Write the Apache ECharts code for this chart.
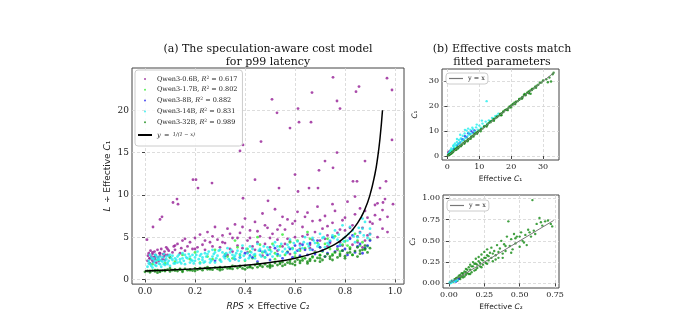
<!DOCTYPE html>
<html>
<head>
<meta charset="utf-8">
<script src="https://cdn.jsdelivr.net/npm/echarts@6/dist/echarts.min.js"></script>
<style>
  html, body { margin: 0; padding: 0; background: #fff; }
  #main { width: 686px; height: 318px; }
</style>
</head>
<body>
<div id="main"></div>
<script>
// (a) 左图: RPS x C2 vs L / C1
var p06 = [
  [0.01,2.2],[0.012,2.8],[0.015,3.1],[0.018,2.5],[0.02,1.9],[0.022,3.4],[0.025,2.7],[0.028,2.3],[0.03,3.0],[0.032,2.1],
  [0.035,2.6],[0.038,3.3],[0.04,2.4],[0.042,2.9],[0.045,2.0],[0.05,3.5],[0.052,2.6],[0.055,2.2],[0.058,3.1],[0.06,2.8],
  [0.065,3.6],[0.07,2.4],[0.072,3.0],[0.075,2.7],[0.078,3.3],[0.08,2.3],[0.085,3.8],[0.09,2.9],[0.095,3.4],[0.1,2.6],
  [0.11,3.2],[0.115,3.9],[0.12,3.5],[0.13,4.2],[0.14,3.1],[0.145,3.7],[0.15,4.6],[0.16,3.4],[0.17,3.9],[0.18,4.4],
  [0.19,3.6],[0.2,4.9],[0.21,3.8],[0.22,5.3],[0.23,4.1],[0.24,3.5],[0.25,5.6],[0.26,4.4],[0.27,3.9],[0.28,6.2],[0.29,4.7],
  [0.3,3.8],[0.31,5.2],[0.32,4.3],[0.33,6.0],[0.34,3.6],[0.35,4.9],[0.36,6.5],[0.37,4.0],[0.38,5.5],[0.39,3.7],
  [0.4,7.2],[0.41,4.6],[0.42,5.8],[0.43,3.9],[0.44,6.8],[0.45,4.4],[0.46,5.1],[0.47,7.8],[0.48,4.2],[0.49,6.1],
  [0.5,3.8],[0.51,5.4],[0.52,8.3],[0.53,4.7],[0.54,6.4],[0.55,3.9],[0.56,5.9],[0.57,7.1],[0.58,4.5],[0.59,6.6],
  [0.6,5.0],[0.61,8.0],[0.62,4.2],[0.63,6.2],[0.64,7.4],[0.65,5.3],[0.66,4.1],[0.67,6.9],[0.68,5.6],[0.69,8.6],
  [0.7,4.6],[0.71,6.0],[0.72,7.5],[0.73,5.2],[0.74,4.3],[0.75,6.7],[0.76,8.1],[0.77,5.5],[0.78,4.4],[0.79,7.0],
  [0.8,5.8],[0.81,9.2],[0.82,4.9],[0.83,6.4],[0.84,7.7],[0.85,5.1],[0.86,8.4],[0.87,6.1],[0.88,4.6],[0.89,7.3],
  [0.9,5.4],[0.91,6.6],[0.92,8.8],[0.93,5.0],[0.94,7.1],[0.95,6.0],[0.96,9.5],[0.97,5.6],
  [0.33,2.9],[0.41,3.2],[0.47,2.8],[0.53,3.4],[0.58,3.0],[0.62,3.6],[0.68,3.3],[0.73,3.9],[0.77,3.5],[0.83,4.1],
  [0.87,3.8],[0.35,3.3],[0.44,3.5],[0.56,4.2],[0.66,3.7],[0.72,4.8],[0.79,4.0],[0.85,4.4],[0.89,5.2],
  [0.02,2.5],[0.03,3.2],[0.04,2.7],[0.06,3.1],[0.08,2.9],[0.09,3.6],[0.12,4.0],[0.16,4.8],[0.2,3.6],[0.24,4.6],
  [0.27,5.1],[0.31,4.4],[0.34,5.4],[0.37,4.9],[0.39,6.2],[0.42,4.9],[0.45,5.7],[0.48,6.4],[0.5,4.9],[0.53,5.9],
  [0.55,7.4],[0.57,4.8],[0.6,6.9],[0.63,5.1],[0.65,7.9],[0.67,4.7],[0.7,7.0],[0.73,6.3],[0.75,8.9],[0.78,5.9],
  [0.8,7.3],[0.82,6.1],[0.84,9.8],[0.86,5.6],[0.88,8.1],[0.9,6.8],[0.92,7.6],[0.93,9.0],[0.95,8.2],[0.97,7.4],
  [0.752,23.9],[0.968,23.8],[0.988,22.4],[0.668,22.1],[0.844,22.2],[0.856,22.8],[0.508,21.3],[0.768,21.1],[0.612,20.2],
  [0.78,20.2],[0.528,19.7],[0.616,18.6],[0.664,18.6],[0.58,17.9],[0.988,16.5],[0.392,15.9],[0.464,16.3],[0.38,15.2],
  [0.44,11.8],[0.192,11.8],[0.212,10.8],[0.204,11.8],[0.268,11.4],[0.128,9.5],[0.112,9.1],[0.132,8.9],[0.068,7.4],
  [0.06,7.1],[0.032,6.2],[0.008,4.7],[0.6,12.4],[0.768,15.0],[0.696,12.9],[0.752,13.2],[0.72,14.0],[0.88,14.0],
  [0.832,11.6],[0.848,11.6],[0.964,11.6],[0.536,10.8],[0.612,10.4],[0.94,10.8],[0.392,9.6],[0.492,9.3],[0.656,10.8],
  [0.692,10.8],[0.952,9.1],[0.992,8.9]
]
var p17 = [
  [0.03,1.8],[0.05,2.3],[0.08,1.9],[0.1,2.6],[0.12,2.1],[0.15,2.9],[0.18,2.4],[0.2,3.2],[0.22,2.0],[0.25,2.7],
  [0.28,3.5],[0.3,2.3],[0.32,3.0],[0.35,2.5],[0.37,3.8],[0.4,2.2],[0.42,3.3],[0.44,2.8],[0.46,4.1],[0.48,2.6],
  [0.5,3.5],[0.52,2.4],[0.54,3.9],[0.56,2.9],[0.58,4.4],[0.6,3.1],[0.62,2.7],[0.64,3.7],[0.66,4.8],[0.68,3.2],
  [0.7,2.9],[0.72,4.2],[0.74,3.6],[0.76,5.1],[0.78,3.3],[0.8,4.5],[0.82,3.8],[0.84,5.4],[0.86,4.0],[0.88,3.5],
  [0.9,4.7],[0.36,4.6],[0.45,5.0],[0.55,5.3],[0.65,5.6],[0.75,3.0],[0.85,4.6],[0.62,3.4],[0.7,3.8],[0.79,4.1],
  [0.52,3.1],[0.43,2.5],[0.57,3.3],[0.67,2.6],[0.83,2.9],
  [0.38,2.9],[0.41,3.6],[0.47,3.2],[0.51,4.2],[0.53,2.8],[0.59,3.7],[0.61,4.6],[0.63,2.5],[0.69,4.3],[0.71,3.3],
  [0.73,4.8],[0.77,3.6],[0.81,4.0],[0.87,4.4],[0.89,3.9],[0.33,2.7],[0.27,2.4],[0.6,2.7]
]
var p8 = [
  [0.28,2.2],[0.32,2.8],[0.36,2.4],[0.4,3.1],[0.43,2.6],[0.46,3.4],[0.49,2.9],[0.52,3.7],[0.55,2.5],[0.57,3.2],
  [0.6,4.0],[0.62,2.8],[0.64,3.5],[0.66,4.3],[0.68,3.0],[0.7,3.8],[0.72,2.7],[0.74,4.5],[0.76,3.3],[0.78,4.0],
  [0.8,3.6],[0.82,4.8],[0.84,3.2],[0.86,4.2],[0.88,3.7],[0.9,4.6],[0.58,3.6],[0.65,2.9],[0.71,3.4],[0.77,3.9],
  [0.81,2.9],[0.87,3.1],[0.5,2.3],[0.45,2.1],[0.69,4.6],[0.75,5.0],[0.83,5.2],
  [0.53,3.0],[0.59,2.6],[0.61,3.4],[0.63,4.1],[0.67,3.5],[0.73,3.1],[0.79,3.4],[0.85,3.9],[0.89,4.0],[0.48,3.3],
  [0.42,2.8],[0.38,2.6]
]
var p14 = [
  [0.01,1.5],[0.015,2.2],[0.02,1.8],[0.025,2.6],[0.03,1.4],[0.035,2.0],[0.04,2.9],[0.045,1.6],[0.05,2.3],[0.055,1.9],
  [0.06,2.7],[0.065,1.5],[0.07,2.1],[0.075,3.0],[0.08,1.7],[0.085,2.4],[0.09,2.0],[0.095,2.8],[0.1,1.6],[0.11,2.3],
  [0.12,1.9],[0.13,2.7],[0.14,2.1],[0.15,3.1],[0.16,1.8],[0.17,2.5],[0.18,2.0],[0.19,2.9],[0.2,2.2],[0.21,3.3],
  [0.22,1.9],[0.23,2.6],[0.24,2.1],[0.25,3.0],[0.26,2.4],[0.27,3.5],[0.28,2.0],[0.29,2.8],[0.3,2.3],[0.31,3.2],
  [0.32,2.5],[0.33,3.7],[0.34,2.2],[0.35,2.9],[0.36,2.4],[0.37,3.4],[0.38,2.6],[0.39,4.0],[0.4,2.3],[0.41,3.1],
  [0.42,2.7],[0.43,3.6],[0.44,2.5],[0.45,4.2],[0.46,2.9],[0.47,3.3],[0.48,2.6],[0.49,3.8],[0.5,3.0],[0.52,4.4],
  [0.54,2.8],[0.56,3.6],[0.58,4.7],[0.6,3.2],[0.62,4.0],[0.64,5.0],[0.66,3.5],[0.68,4.3],[0.7,5.4],[0.72,3.8],
  [0.74,4.6],[0.76,5.8],[0.78,4.1],[0.8,5.0],[0.82,6.2],[0.84,4.4],[0.86,5.5],[0.88,6.8],[0.89,4.9],[0.9,6.0],
  [0.87,7.2],[0.83,5.8],[0.79,6.4],[0.71,4.9],[0.63,3.7],[0.55,3.3],[0.51,2.7],[0.05,2.6],[0.08,2.2],[0.12,2.5],
  [0.18,2.7],[0.03,2.4],[0.06,1.8],[0.1,2.9],[0.14,2.4],[0.22,2.8],[0.26,2.0],[0.3,3.5],[0.34,3.2],[0.38,3.0],
  [0.42,3.9],[0.46,3.6],[0.02,2.9],[0.04,2.2],[0.07,2.6],[0.09,1.8],[0.11,2.8],[0.13,2.0],[0.16,2.9],[0.2,2.6],
  [0.24,3.1],[0.28,3.2],
  [0.53,3.9],[0.57,4.1],[0.59,3.6],[0.61,4.5],[0.65,4.2],[0.67,4.9],[0.69,3.9],[0.73,4.3],[0.75,5.2],[0.77,4.7],
  [0.81,4.6],[0.85,5.0],[0.87,6.0],[0.9,5.3],[0.44,3.0],[0.48,3.4],[0.36,2.8],[0.32,2.9],[0.27,2.7],[0.23,2.3],
  [0.19,2.2],[0.15,2.5],[0.06,2.3],[0.04,1.7],
  [0.015,1.9],[0.025,1.6],[0.035,2.5],[0.045,2.8],[0.055,2.4],[0.065,2.2],[0.075,1.8],[0.085,2.7],[0.095,2.2],
  [0.105,2.5],[0.115,1.9],[0.125,2.3],[0.135,2.9],[0.145,1.9],[0.155,2.2],[0.165,2.6],[0.175,3.0],[0.185,2.3],
  [0.195,1.9],[0.205,2.9],[0.215,2.4],[0.225,3.0],[0.235,2.0],[0.245,2.7],[0.255,3.3],[0.265,2.2],[0.275,3.0],
  [0.285,2.5],[0.295,3.4],[0.305,2.1],[0.315,2.7],[0.325,3.1],[0.335,2.4],[0.345,3.5],[0.355,2.6],[0.365,3.1],
  [0.375,2.2],[0.385,3.3],[0.395,2.8],[0.405,3.6],[0.415,2.5],[0.425,3.2],[0.435,2.9],[0.455,3.4],[0.465,2.7],
  [0.475,3.9],[0.485,3.1],[0.495,3.5],[0.505,3.3],[0.515,4.0],[0.525,3.0],[0.535,3.5],[0.545,4.2],[0.565,3.1],
  [0.575,3.8],[0.595,4.3],[0.615,3.5],[0.635,4.4],[0.655,3.9],[0.675,4.6],[0.695,4.1],[0.715,5.0],[0.735,4.1],
  [0.755,4.9],[0.775,5.3],[0.795,4.5],[0.815,5.4],[0.835,5.1],[0.855,6.1],[0.875,5.2]
]
var p32 = [
  [0.0,0.9],[0.01,1.0],[0.02,0.85],[0.03,1.05],[0.04,0.95],[0.05,1.1],[0.06,0.9],[0.07,1.05],[0.08,1.0],[0.09,1.15],
  [0.1,0.95],[0.11,1.1],[0.12,1.2],[0.13,1.0],[0.14,1.15],[0.15,1.05],[0.16,1.25],[0.17,1.1],[0.18,1.2],[0.19,1.05],
  [0.2,1.3],[0.21,1.15],[0.22,1.25],[0.23,1.1],[0.24,1.35],[0.25,1.2],[0.26,1.3],[0.27,1.15],[0.28,1.4],[0.29,1.25],
  [0.3,1.35],[0.31,1.2],[0.32,1.45],[0.33,1.3],[0.34,1.4],[0.35,1.25],[0.36,1.55],[0.37,1.35],[0.38,1.5],[0.39,1.3],
  [0.4,1.6],[0.41,1.4],[0.42,1.55],[0.43,1.35],[0.44,1.7],[0.45,1.45],[0.46,1.65],[0.47,1.5],[0.48,1.8],[0.49,1.55],
  [0.5,1.75],[0.51,1.6],[0.52,1.95],[0.53,1.7],[0.54,1.85],[0.55,2.05],[0.56,1.75],[0.57,2.0],[0.58,2.2],[0.59,1.85],
  [0.6,2.1],[0.61,2.35],[0.62,1.95],[0.63,2.25],[0.64,2.5],[0.65,2.1],[0.66,2.4],[0.67,2.7],[0.68,2.2],[0.69,2.55],
  [0.7,2.85],[0.71,2.3],[0.72,2.7],[0.73,3.0],[0.74,2.45],[0.75,2.85],[0.76,3.2],[0.77,2.6],[0.78,3.0],[0.79,3.4],
  [0.8,2.75],[0.81,3.15],[0.82,3.6],[0.83,2.9],[0.84,3.35],[0.85,3.8],[0.86,3.05],[0.87,3.5],[0.88,4.0],[0.89,3.2],
  [0.9,3.7],[0.05,0.8],[0.1,1.3],[0.15,0.9],[0.2,1.0],[0.25,1.45],[0.3,1.1],[0.35,1.6],[0.4,1.2],[0.45,1.9],
  [0.5,1.4],[0.55,1.6],[0.6,1.7],[0.65,1.9],[0.7,2.1],[0.75,2.3],[0.8,2.5],[0.85,2.7],
  [0.02,1.0],[0.04,1.1],[0.06,1.0],[0.08,1.1],[0.12,1.05],[0.14,1.25],[0.18,1.1],[0.22,1.35],[0.26,1.2],[0.3,1.45],
  [0.34,1.3],[0.38,1.6],[0.42,1.45],[0.46,1.75],[0.5,1.6],[0.54,2.0],[0.58,1.9],[0.62,2.2],[0.66,2.2],[0.7,2.5],
  [0.74,2.7],[0.78,2.8],[0.82,3.2],[0.86,3.4],[0.88,3.6]
]
// y = 1/(1-x) 的点
var curve = [
  [0,1],[0.1,1.111],[0.2,1.25],[0.3,1.4286],[0.4,1.6667],[0.5,2],[0.6,2.5],[0.7,3.333],[0.75,4],[0.8,5],
  [0.85,6.667],[0.88,8.333],[0.9,10],[0.92,12.5],[0.93,14.286],[0.94,16.667],[0.95,20]
]
var r2 = ['0.617', '0.802', '0.882', '0.831', '0.989']
var models = ['Qwen3-0.6B', 'Qwen3-1.7B', 'Qwen3-8B', 'Qwen3-14B', 'Qwen3-32B']
var colors = ['#951d95', '#33ee33', '#2323ee', '#22eeee', '#118811']

// (b) 右上: C1
var c1p06 = [[0.2,0.5],[0.4,1.1],[0.5,1.8],[0.7,1.4],[0.9,2.1],[0.3,1.5],[0.6,0.7]]
var c1p17 = [[0.3,0.4],[0.8,1.2],[1.3,1.9],[1.7,2.3],[2.2,2.9],[2.6,3.1],[3.1,3.6]]
var c1p8 = [[1,1.6],[2,2.9],[3,4.2],[4,5.4],[4.5,6.8],[5,6.5],[5.5,7.9],[6,7.5],[6.5,9.1],[7,8.8],[7.5,10.0],[8,9.4],[8.5,10.3],[0.8,1.2],[3.5,4.9]]
var c1p14 = [
  [0.3,0.8],[0.6,1.5],[0.9,2.2],[1.2,3.0],[1.5,2.6],[1.8,4.0],[2.1,3.5],[2.4,5.0],[2.7,4.2],[3.0,5.6],[3.3,4.8],
  [3.6,6.4],[3.9,5.3],[4.2,7.0],[4.5,6.0],[4.8,8.1],[5.1,6.6],[5.4,9.0],[5.7,7.3],[6.0,10.2],[6.3,8.0],[6.6,9.4],
  [6.9,8.6],[7.2,10.5],[7.5,9.0],[8.0,10.8],[8.5,9.8],[9.0,11.5],[9.5,10.6],[10,12.2],[10.5,11.4],[11,13.0],
  [11.5,12.1],[12,13.8],[12.3,22.0],[12.6,13.0],[13.0,14.3],[13.5,14.0],[14,15.3],[14.5,15.0],[15,16.0],[15.5,16.2],
  [16,17.0],[6.5,11.0],[5.5,10.5],[4.0,8.5],[3.0,6.8],[2.0,4.4],[7.8,11.4],[9.2,12.6],[10.8,14.2],[1.0,1.8],[0.5,1.0]
]
var c1p32 = [
  [0.5,0.4],[1,1.1],[1.5,1.3],[2,2.1],[2.5,2.4],[3,3.2],[3.5,3.4],[4,4.1],[4.5,4.6],[5,5.2],[5.5,5.4],[6,6.1],
  [6.5,6.7],[7,7.0],[7.5,7.8],[8,8.1],[8.5,8.6],[9,9.3],[9.5,9.5],[10,10.2],[10.5,10.8],[11,11.0],[11.5,11.9],
  [12,12.1],[12.5,12.7],[13,13.3],[13.5,13.5],[14,14.2],[14.5,14.9],[15,15.1],[15.5,15.8],[16,16.0],[16.5,16.9],
  [17,17.2],[17.5,17.6],[18,18.4],[18.5,18.7],[19,19.1],[19.5,19.9],[20,20.3],[20.5,20.6],[21,21.4],[21.5,21.8],
  [22,22.0],[22.5,22.9],[23,23.1],[23.5,23.7],[24,24.5],[24.5,24.7],[25,25.4],[25.5,25.6],[26,26.3],[26.5,26.9],
  [27,27.1],[27.5,27.8],[28,28.2],[28.5,28.6],[29,29.4],[29.5,29.5],[30,30.3],[31,30.8],[31.5,29.6],[32,31.5],
  [32.5,29.9],[33,32.8],[33.3,33.4],[1.2,0.9],[2.8,2.5],[4.2,3.9],[6.3,5.9],[8.2,7.8],[10.4,9.9],[12.3,11.8],
  [14.6,14.1],[16.8,16.3],[18.9,18.4],[21.2,20.8],[23.4,23.0],[25.6,25.2],[27.8,27.4],[17,16.4],[20,19.5],
  [24.2,24.9],[26.1,25.0],[0.2,0.3],[0.8,0.6],[1.8,1.6],[3.3,3.0],[5.3,4.9],[7.3,6.9],[9.3,8.9],
  [0.5,0.7],[1.5,1.6],[2.5,2.7],[3.5,3.7],[4.5,4.4],[5.5,5.8],[6.5,6.4],[7.5,7.5],[8.5,8.9],[9.5,9.8],[10.5,10.5],
  [11.5,11.6],[12.5,12.4],[13.5,13.9],[14.5,14.5],[15.5,15.5],[16.5,16.5],[17.5,17.9],[18.5,18.5],[19.5,19.5],
  [20.5,20.9],[21.5,21.5],[22.5,22.5],[23.5,23.4],[24.5,24.4],[25.5,25.9],[26.5,26.5]
]
var c1line = [[0, 0], [33.5, 33.5]]

// (b) 右下: C2
var c2p8 = [[0.02,0.02],[0.04,0.03],[0.05,0.02],[0.07,0.05]]
var c2p14 = [[0.005,0.01],[0.01,0.0],[0.015,0.02],[0.02,0.01],[0.03,0.03],[0.04,0.02],[0.05,0.03],[0.06,0.04]]
var c2p32 = [
  [0.01,0.01],[0.02,0.03],[0.03,0.02],[0.04,0.05],[0.05,0.04],[0.06,0.07],[0.07,0.06],[0.08,0.1],[0.09,0.08],
  [0.1,0.12],[0.1,0.07],[0.11,0.14],[0.12,0.1],[0.12,0.17],[0.13,0.12],[0.14,0.19],[0.14,0.11],[0.15,0.16],
  [0.15,0.22],[0.16,0.13],[0.17,0.2],[0.17,0.25],[0.18,0.15],[0.19,0.23],[0.19,0.29],[0.2,0.18],[0.21,0.26],
  [0.21,0.31],[0.22,0.2],[0.23,0.28],[0.23,0.34],[0.24,0.22],[0.25,0.3],[0.25,0.37],[0.26,0.24],[0.27,0.33],
  [0.27,0.4],[0.28,0.27],[0.29,0.36],[0.3,0.3],[0.3,0.42],[0.31,0.26],[0.32,0.38],[0.33,0.33],[0.34,0.45],
  [0.35,0.3],[0.36,0.41],[0.37,0.5],[0.38,0.35],[0.39,0.46],[0.4,0.38],[0.41,0.55],[0.42,0.73],[0.43,0.44],
  [0.44,0.52],[0.45,0.4],[0.46,0.58],[0.47,0.47],[0.48,0.55],[0.5,0.43],[0.51,0.6],[0.52,0.5],[0.54,0.57],
  [0.55,0.45],[0.56,0.63],[0.58,0.55],[0.59,0.98],[0.6,0.62],[0.62,0.7],[0.64,0.77],[0.66,0.68],[0.68,0.73],
  [0.7,0.74],[0.72,0.7],[0.73,0.67],[0.05,0.06],[0.06,0.03],[0.07,0.09],[0.08,0.05],[0.09,0.12],[0.11,0.08],
  [0.13,0.16],[0.16,0.2],[0.18,0.23],[0.2,0.22],[0.22,0.24],[0.24,0.27],[0.26,0.3],[0.28,0.32],[0.31,0.35],
  [0.33,0.28],[0.35,0.37],[0.38,0.3],[0.4,0.44],[0.44,0.36],[0.47,0.53],[0.5,0.55],[0.53,0.48],[0.57,0.6],
  [0.61,0.58],[0.65,0.72],[0.15,0.11],[0.19,0.16],[0.23,0.19],[0.27,0.23],[0.12,0.13],[0.1,0.1],[0.08,0.07]
]
var c2line = [[0, 0], [0.74, 0.74]]

var ticksA_x = [0, 0.2, 0.4, 0.6, 0.8, 1.0]
var ticksA_y = [0, 5, 10, 15, 20]
var ticksC1 = [0, 10, 20, 30]
var ticksC2_x = [0, 0.25, 0.5, 0.75]
var ticksC2_y = [0, 0.25, 0.5, 0.75, 1.0]

var serif = 'DejaVu Serif'
var sans = 'DejaVu Sans'
function nameRich(size) {
  return {
    n: { fontFamily: sans, fontSize: size, color: '#222' },
    i: { fontFamily: sans, fontSize: size, fontStyle: 'italic', color: '#222' }
  }
}

function axis(grid, min, max, ticks, digits, fs, extra) {
  var a = {
    type: 'value', gridIndex: grid, min: min, max: max,
    axisLine: { show: false },
    axisTick: { show: true, length: 3, customValues: ticks, lineStyle: { color: '#444' } },
    axisLabel: {
      customValues: ticks, fontFamily: serif, fontSize: fs, color: '#222', margin: 3,
      formatter: function (v) { return v.toFixed(digits) }
    },
    splitLine: { show: true, lineStyle: { color: '#d4d4d4', type: [3, 2], width: 0.8 } },
    nameLocation: 'middle'
  }
  for (var k in extra) a[k] = extra[k]
  return a
}

function dots(name, data, color, xi, yi, size) {
  return {
    name: name, type: 'scatter', xAxisIndex: xi, yAxisIndex: yi, data: data,
    symbolSize: size, silent: true, animation: false,
    itemStyle: { color: color, opacity: 0.8 }
  }
}

var legendRich = {
  t: { fontFamily: serif, fontSize: 6.5, color: '#222', lineHeight: 8 },
  i: { fontFamily: serif, fontSize: 6.5, fontStyle: 'italic', color: '#222', lineHeight: 8 },
  s: { fontFamily: serif, fontSize: 4.5, color: '#222', verticalAlign: 'top', lineHeight: 8 },
  f: { fontFamily: serif, fontSize: 5, fontStyle: 'italic', color: '#222', lineHeight: 8 }
}

var legendData = models.slice()
legendData.push({ name: 'fit', icon: 'rect' })

var myChart = echarts.init(document.getElementById('main'), null, { renderer: 'canvas' })
myChart.setOption({
  animation: false,
  title: [
    { text: '(a) The speculation-aware cost model\nfor p99 latency', left: 263, top: 38, textAlign: 'center',
      textStyle: { fontFamily: serif, fontSize: 11, fontWeight: 'normal', color: '#111', lineHeight: 13 } },
    { text: '(b) Effective costs match\nfitted parameters', left: 497, top: 38, textAlign: 'center',
      textStyle: { fontFamily: serif, fontSize: 11, fontWeight: 'normal', color: '#111', lineHeight: 13 } }
  ],
  grid: [
    { left: 132, top: 68, width: 272, height: 220, show: true, borderColor: '#444', borderWidth: 1 },
    { left: 442, top: 69, width: 117, height: 91, show: true, borderColor: '#444', borderWidth: 1 },
    { left: 443, top: 195, width: 116, height: 93, show: true, borderColor: '#444', borderWidth: 1 }
  ],
  legend: [
    {
      data: legendData, orient: 'vertical', left: 135, top: 70, itemGap: 3.3,
      itemWidth: 14, itemHeight: 2, padding: [5, 5, 5, 3],
      backgroundColor: 'rgba(255,255,255,0.85)', borderColor: '#ccc', borderWidth: 1, borderRadius: 3,
      textStyle: { rich: legendRich },
      formatter: function (name) {
        var i = models.indexOf(name)
        if (i < 0) return '{i|y} {t|=} {f|1/(1 − x)}'
        return '{t|' + name + ', }{i|R}{s|2}{t| = ' + r2[i] + '}'
      }
    },
    {
      data: [{ name: 'y = x', icon: 'rect' }], left: 446, top: 73, itemWidth: 14, itemHeight: 1.2,
      padding: [2, 3, 2, 3],
      backgroundColor: '#fff', borderColor: '#ccc', borderWidth: 1, borderRadius: 3,
      textStyle: { fontFamily: serif, fontSize: 6.5, color: '#222' }
    },
    {
      data: [{ name: 'y = x', icon: 'rect' }], left: 447, top: 200, itemWidth: 14, itemHeight: 1.2,
      padding: [2, 3, 2, 3],
      backgroundColor: '#fff', borderColor: '#ccc', borderWidth: 1, borderRadius: 3,
      textStyle: { fontFamily: serif, fontSize: 6.5, color: '#222' }
    }
  ],
  xAxis: [
    axis(0, -0.052, 1.036, ticksA_x, 1, 9, { name: '{i|RPS} {n|× Effective }{i|C}{n|₂}', nameGap: 15,
      nameTextStyle: { rich: nameRich(9) } }),
    axis(1, -1.7, 35, ticksC1, 0, 8, { name: '{n|Effective }{i|C}{n|₁}', nameGap: 15,
      nameTextStyle: { rich: nameRich(7.5) } }),
    axis(2, -0.042, 0.778, ticksC2_x, 2, 8, { name: '{n|Effective }{i|C}{n|₂}', nameGap: 15,
      nameTextStyle: { rich: nameRich(7.5) } })
  ],
  yAxis: [
    axis(0, -0.55, 25, ticksA_y, 0, 9, { name: '{i|L} {n|÷ Effective }{i|C}{n|₁}', nameGap: 17,
      nameTextStyle: { rich: nameRich(9) } }),
    axis(1, -1.6, 34.9, ticksC1, 0, 8, { name: '{i|C}{n|₁}', nameGap: 23,
      nameTextStyle: { rich: nameRich(7.5) } }),
    axis(2, -0.055, 1.04, ticksC2_y, 2, 8, { name: '{i|C}{n|₂}', nameGap: 26,
      nameTextStyle: { rich: nameRich(7.5) } })
  ],
  series: [
    dots('Qwen3-0.6B', p06, colors[0], 0, 0, 2.8),
    dots('Qwen3-1.7B', p17, colors[1], 0, 0, 2.8),
    dots('Qwen3-8B', p8, colors[2], 0, 0, 2.8),
    dots('Qwen3-14B', p14, colors[3], 0, 0, 2.8),
    dots('Qwen3-32B', p32, colors[4], 0, 0, 2.8),
    { name: 'fit', type: 'line', data: curve, smooth: true, showSymbol: false, symbol: 'none',
      xAxisIndex: 0, yAxisIndex: 0, silent: true, lineStyle: { color: '#000', width: 1.5 }, itemStyle: { color: '#000' } },

    dots('c1-0.6B', c1p06, colors[0], 1, 1, 2.4),
    dots('c1-1.7B', c1p17, colors[1], 1, 1, 2.4),
    dots('c1-8B', c1p8, colors[2], 1, 1, 2.4),
    dots('c1-14B', c1p14, colors[3], 1, 1, 2.4),
    dots('c1-32B', c1p32, colors[4], 1, 1, 2.4),
    { name: 'y = x', type: 'line', data: c1line, showSymbol: false, symbol: 'none', xAxisIndex: 1, yAxisIndex: 1,
      silent: true, lineStyle: { color: '#777', width: 1 }, itemStyle: { color: '#777' } },

    dots('c2-32B', c2p32, colors[4], 2, 2, 2.4),
    dots('c2-8B', c2p8, colors[2], 2, 2, 2.4),
    dots('c2-14B', c2p14, colors[3], 2, 2, 2.4),
    { name: 'y = x', type: 'line', data: c2line, showSymbol: false, symbol: 'none', xAxisIndex: 2, yAxisIndex: 2,
      silent: true, lineStyle: { color: '#777', width: 1 }, itemStyle: { color: '#777' } }
  ]
})
</script>
</body>
</html>
